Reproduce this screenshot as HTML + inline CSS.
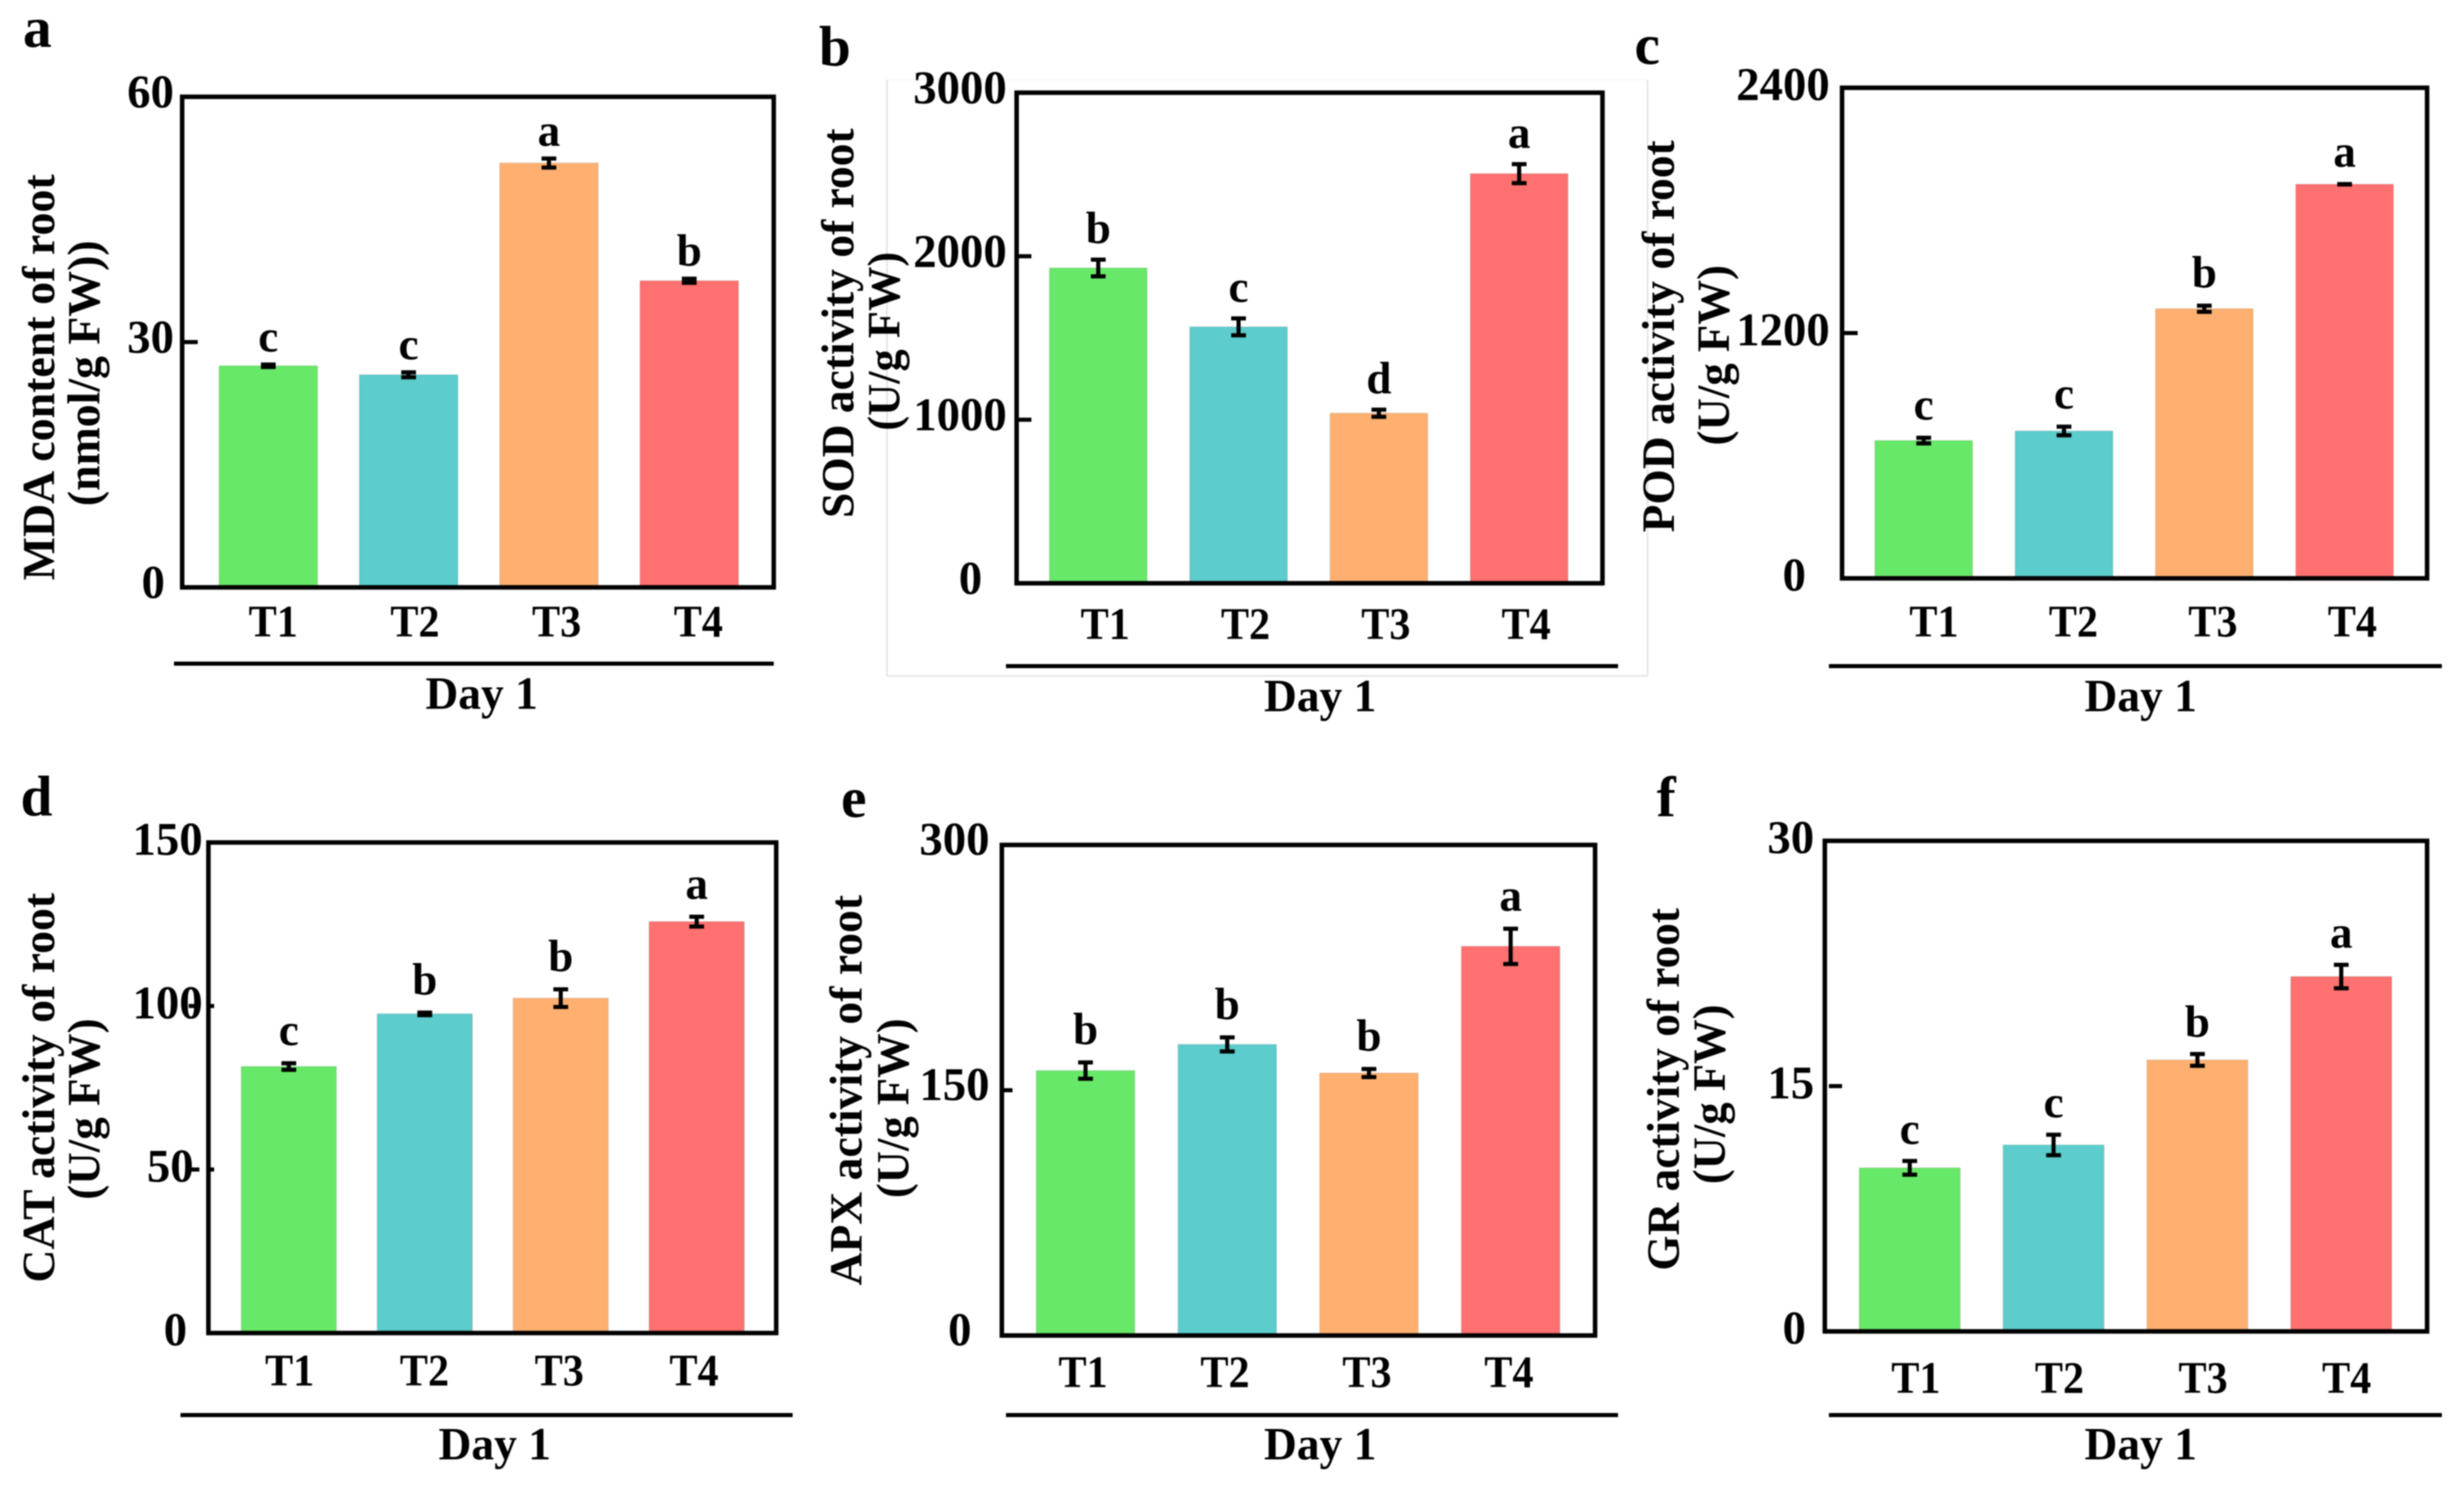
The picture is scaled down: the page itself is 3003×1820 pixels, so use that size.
<!DOCTYPE html>
<html lang="en">
<head>
<meta charset="utf-8">
<title>Root antioxidant activity on Day 1</title>
<style>
html,body{margin:0;padding:0;background:#fff;}
svg{display:block;filter:blur(0.7px);}
text{font-family:"Liberation Serif",serif;font-weight:bold;fill:#000;}
</style>
</head>
<body>
<svg id="figure" xmlns="http://www.w3.org/2000/svg" width="3003" height="1820" viewBox="0 0 3003 1820">
  <rect x="0" y="0" width="3003" height="1820" fill="#fff"/>
  <g fill="none" stroke-width="1.5">
    <line x1="1081" y1="97" x2="1081" y2="824" stroke="#dcdcdc"/>
    <line x1="1081" y1="824" x2="2008" y2="824" stroke="#dcdcdc"/>
    <line x1="2008" y1="97" x2="2008" y2="824" stroke="#dcdcdc"/>
    <line x1="1081" y1="97" x2="2008" y2="97" stroke="#f5f5f5"/>
  </g>

  <text x="28" y="57" font-size="70">a</text>
  <text x="998" y="80" font-size="70">b</text>
  <text x="1992" y="78" font-size="70">c</text>
  <text x="25" y="994" font-size="70">d</text>
  <text x="1025" y="996" font-size="70">e</text>
  <text x="2019" y="995" font-size="70">f</text>

  <text transform="translate(66,460) rotate(-90)" text-anchor="middle" font-size="56" textLength="495" lengthAdjust="spacingAndGlyphs">MDA content of root</text>
  <text transform="translate(121,455) rotate(-90)" text-anchor="middle" font-size="56" textLength="324" lengthAdjust="spacingAndGlyphs">(nmol/g FW))</text>
  <text transform="translate(1040,394) rotate(-90)" text-anchor="middle" font-size="56" textLength="475" lengthAdjust="spacingAndGlyphs">SOD activity of root</text>
  <text transform="translate(1096,416) rotate(-90)" text-anchor="middle" font-size="56" textLength="218" lengthAdjust="spacingAndGlyphs">(U/g FW)</text>
  <text transform="translate(2040,410) rotate(-90)" text-anchor="middle" font-size="56" textLength="478" lengthAdjust="spacingAndGlyphs">POD activity of root</text>
  <text transform="translate(2107,433) rotate(-90)" text-anchor="middle" font-size="56" textLength="220" lengthAdjust="spacingAndGlyphs">(U/g FW)</text>
  <text transform="translate(66,1326) rotate(-90)" text-anchor="middle" font-size="56" textLength="475" lengthAdjust="spacingAndGlyphs">CAT activity of root</text>
  <text transform="translate(121,1352) rotate(-90)" text-anchor="middle" font-size="56" textLength="221" lengthAdjust="spacingAndGlyphs">(U/g FW)</text>
  <text transform="translate(1050,1329) rotate(-90)" text-anchor="middle" font-size="56" textLength="476" lengthAdjust="spacingAndGlyphs">APX activity of root</text>
  <text transform="translate(1107,1351) rotate(-90)" text-anchor="middle" font-size="56" textLength="219" lengthAdjust="spacingAndGlyphs">(U/g FW)</text>
  <text transform="translate(2046,1328) rotate(-90)" text-anchor="middle" font-size="56" textLength="442" lengthAdjust="spacingAndGlyphs">GR activity of root</text>
  <text transform="translate(2102,1334) rotate(-90)" text-anchor="middle" font-size="56" textLength="219" lengthAdjust="spacingAndGlyphs">(U/g FW)</text>

  <line x1="212" y1="809" x2="943" y2="809" stroke="#000" stroke-width="5"/>
  <line x1="1226" y1="812" x2="1972" y2="812" stroke="#000" stroke-width="5"/>
  <line x1="2229" y1="812" x2="2976" y2="812" stroke="#000" stroke-width="5"/>
  <line x1="220" y1="1725" x2="966" y2="1725" stroke="#000" stroke-width="5"/>
  <line x1="1226" y1="1725" x2="1972" y2="1725" stroke="#000" stroke-width="5"/>
  <line x1="2229" y1="1725" x2="2976" y2="1725" stroke="#000" stroke-width="5"/>

  <text x="587" y="864" text-anchor="middle" font-size="56" textLength="137" lengthAdjust="spacingAndGlyphs">Day 1</text>
  <text x="1609" y="867" text-anchor="middle" font-size="56" textLength="137" lengthAdjust="spacingAndGlyphs">Day 1</text>
  <text x="2609" y="867" text-anchor="middle" font-size="56" textLength="137" lengthAdjust="spacingAndGlyphs">Day 1</text>
  <text x="603" y="1779" text-anchor="middle" font-size="56" textLength="137" lengthAdjust="spacingAndGlyphs">Day 1</text>
  <text x="1609" y="1779" text-anchor="middle" font-size="56" textLength="137" lengthAdjust="spacingAndGlyphs">Day 1</text>
  <text x="2609" y="1779" text-anchor="middle" font-size="56" textLength="137" lengthAdjust="spacingAndGlyphs">Day 1</text>

  <g id="panels"></g>
</svg>

<script>
// ---- chart data ----
const categories = ['T1', 'T2', 'T3', 'T4'];
const barColors = ['#68E868', '#5CCCCC', '#FFB070', '#FF7070'];

const mdaValues = [27.1, 26.0, 51.9, 37.5];
const mdaErrors = [0.35, 0.5, 0.75, 0.45];
const mdaLetters = ['c', 'c', 'a', 'b'];
const mdaTicks = [0, 30, 60];

const sodValues = [1928, 1568, 1040, 2505];
const sodErrors = [61, 62, 32, 68];
const sodLetters = ['b', 'c', 'd', 'a'];
const sodTicks = [0, 1000, 2000, 3000];

const podValues = [674, 721, 1319, 1928];
const podErrors = [22, 29, 23, 7];
const podLetters = ['c', 'c', 'b', 'a'];
const podTicks = [0, 1200, 2400];

const catValues = [81.5, 97.6, 102.4, 125.8];
const catErrors = [1.5, 0.9, 3.2, 2.0];
const catLetters = ['c', 'b', 'b', 'a'];
const catTicks = [0, 50, 100, 150];

const apxValues = [162, 178, 160.5, 238];
const apxErrors = [6, 5.3, 3.5, 11.8];
const apxLetters = ['b', 'b', 'b', 'a'];
const apxTicks = [0, 150, 300];

const grValues = [10.0, 11.4, 16.6, 21.7];
const grErrors = [0.52, 0.73, 0.46, 0.82];
const grLetters = ['c', 'c', 'b', 'a'];
const grTicks = [0, 15, 30];

// ---- per-panel layout (frame box, band geometry, label anchors) ----
const panels = [
  {id:'a', values:mdaValues, errors:mdaErrors, letters:mdaLetters, ticks:mdaTicks,
   left:222, right:943, top:118, bottom:716, bandStart:45, bandStep:171, bandW:120,
   letterGap:14, labelRight:212, zeroRight:201, labelDrop:13, tickSegs:[[223,241]],
   catStart:333, catStep:172.7, catBase:776},
  {id:'b', values:sodValues, errors:sodErrors, letters:sodLetters, ticks:sodTicks,
   left:1239, right:1953, top:113, bottom:711, bandStart:40, bandStep:171, bandW:119,
   letterGap:18, labelRight:1227, zeroRight:1197, labelDrop:13, tickSegs:[[1240,1257]],
   catStart:1347, catStep:171, catBase:779},
  {id:'c', values:podValues, errors:podErrors, letters:podLetters, ticks:podTicks,
   left:2245, right:2958, top:107, bottom:705, bandStart:40, bandStep:171, bandW:119,
   letterGap:20, labelRight:2230, zeroRight:2201, labelDrop:15, tickSegs:[[2246,2264]],
   catStart:2357, catStep:170, catBase:776},
  {id:'d', values:catValues, errors:catErrors, letters:catLetters, ticks:catTicks,
   left:254, right:946, top:1027, bottom:1625, bandStart:40, bandStep:165.7, bandW:116,
   letterGap:20, labelRight:247, zeroRight:228, labelDrop:15, tickSegs:[[230,243],[256,261]],
   catStart:353, catStep:164.3, catBase:1689, labelRights:[228, 236, 247, 247]},
  {id:'e', values:apxValues, errors:apxErrors, letters:apxLetters, ticks:apxTicks,
   left:1221, right:1944, top:1030, bottom:1628, bandStart:42, bandStep:172.7, bandW:120,
   letterGap:20, labelRight:1206, zeroRight:1184, labelDrop:12, tickSegs:[[1222,1234]],
   catStart:1320, catStep:173, catBase:1691},
  {id:'f', values:grValues, errors:grErrors, letters:grLetters, ticks:grTicks,
   left:2224, right:2958, top:1025, bottom:1623, bandStart:42, bandStep:175.3, bandW:123,
   letterGap:19, labelRight:2211, zeroRight:2201, labelDrop:15, tickSegs:[[2229,2245]],
   catStart:2335, catStep:175, catBase:1698}
];

const SVG_NS = 'http://www.w3.org/2000/svg';
const root = document.getElementById('panels');

function mk(parent, tag, attrs, content) {
  const node = document.createElementNS(SVG_NS, tag);
  for (const k in attrs) node.setAttribute(k, attrs[k]);
  if (content !== undefined) node.textContent = content;
  parent.appendChild(node);
  return node;
}

function drawPanel(p) {
  const g = mk(root, 'g', {});
  
  

  const maxV = p.ticks[p.ticks.length - 1];
  const yScale = v => p.bottom - (v / maxV) * (p.bottom - p.top);
  const barLeft = i => p.left + p.bandStart + i * p.bandStep;
  const barCenter = i => barLeft(i) + p.bandW / 2;

  // bars
  p.values.forEach((v, i) => {
    const top = yScale(v);
    const bar = mk(g, 'rect', {x: barLeft(i), y: top, width: p.bandW, height: p.bottom - top,
      fill: barColors[i], stroke: 'rgba(0,0,0,0.12)', 'stroke-width': 1});
    
    
  });

  // error bars and significance letters
  p.values.forEach((v, i) => {
    const cx = barCenter(i);
    const hi = yScale(v + p.errors[i]);
    const lo = yScale(v - p.errors[i]);
    const eg = mk(g, 'g', {stroke: '#000', 'stroke-width': 5, fill: 'none'});
    
    
    mk(eg, 'line', {x1: cx, x2: cx, y1: hi, y2: lo});
    mk(eg, 'line', {x1: cx - 9, x2: cx + 9, y1: hi + 2, y2: hi + 2});
    mk(eg, 'line', {x1: cx - 9, x2: cx + 9, y1: lo - 2, y2: lo - 2});

    const sig = mk(g, 'text', {x: cx, y: hi - p.letterGap, 'text-anchor': 'middle', 'font-size': 55}, p.letters[i]);
    
    
  });

  // frame
  const frame = mk(g, 'rect', {x: p.left, y: p.top, width: p.right - p.left, height: p.bottom - p.top,
    fill: 'none', stroke: '#000', 'stroke-width': 5.5});
  
  

  // y ticks and labels
  p.ticks.forEach((t, i) => {
    const y = yScale(t);
    const right = p.labelRights ? p.labelRights[i] : (t === 0 ? p.zeroRight : p.labelRight);
    const label = mk(g, 'text', {x: right, y: y + p.labelDrop, 'text-anchor': 'end', 'font-size': 57}, String(t));
    
    
    if (t !== 0 && t !== maxV) {
      p.tickSegs.forEach(seg => {
        const tick = mk(g, 'line', {x1: seg[0], x2: seg[1], y1: y, y2: y, stroke: '#000', 'stroke-width': 5});
        
        
      });
    }
  });

  // category labels
  categories.forEach((c, i) => {
    const label = mk(g, 'text', {x: p.catStart + i * p.catStep, y: p.catBase, 'text-anchor': 'middle',
      'font-size': 55, textLength: 60, lengthAdjust: 'spacingAndGlyphs'}, c);
    
    
  });
}

panels.forEach(drawPanel);
</script>
</body>
</html>
